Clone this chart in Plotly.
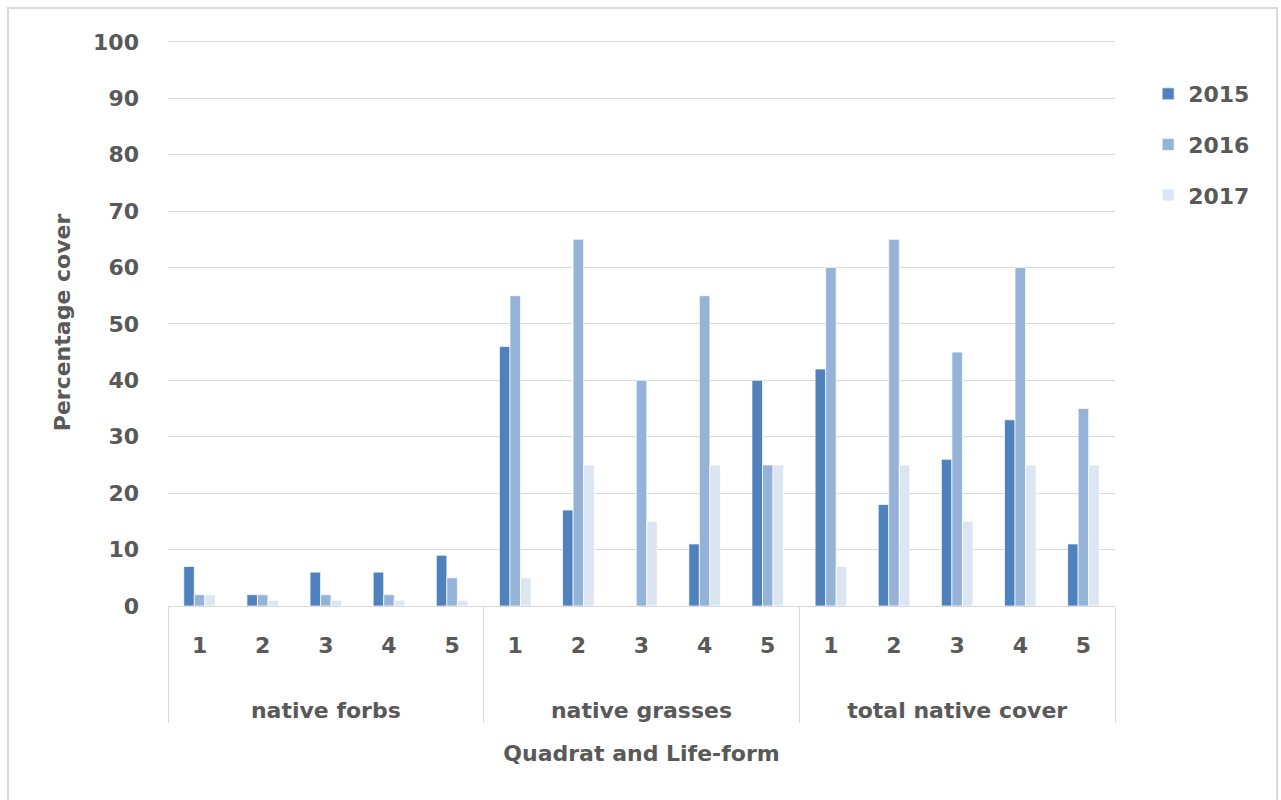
import plotly.graph_objects as go

life_forms = ["native forbs", "native grasses", "total native cover"]
quadrats = ["1", "2", "3", "4", "5"]
years = ["2015", "2016", "2017"]

cover_2015 = [7, 2, 6, 6, 9, 46, 17, 0, 11, 40, 42, 18, 26, 33, 11]
cover_2016 = [2, 2, 2, 2, 5, 55, 65, 40, 55, 25, 60, 65, 45, 60, 35]
cover_2017 = [2, 1, 1, 1, 1, 5, 25, 15, 25, 25, 7, 25, 15, 25, 25]

colors = ["#4F81BD", "#95B3D7", "#DCE6F2"]

outer = ["<br><br>" + lf for lf in life_forms for _ in quadrats]
inner = [q for _ in life_forms for q in quadrats]

FONT = "DejaVu Sans"
TXT = "#595959"
FS = 22

fig = go.Figure()
for yr, vals, col in zip(years, [cover_2015, cover_2016, cover_2017], colors):
    fig.add_trace(go.Bar(
        name=yr, x=[outer, inner], y=vals,
        marker=dict(color=col, line=dict(color="rgba(255,255,255,0.7)", width=1)),
        legendgroup=yr,
    ))

L, R, T, B = 168, 1281 - 1115, 39, 800 - 606
PW, PH = 1281 - L - R, 800 - T - B
fig.update_layout(
    width=1281, height=800,
    margin=dict(l=L, r=R, t=T, b=B, autoexpand=False),
    paper_bgcolor="white", plot_bgcolor="white",
    barmode="group", bargap=0.5, bargroupgap=0,
    font=dict(family=FONT, size=FS, color=TXT),
    showlegend=True,
    legend=dict(
        x=1.035, xanchor="left", y=0.94, yanchor="top",
        font=dict(family=FONT, size=FS, color=TXT, weight="bold"),
        tracegroupgap=19, itemwidth=30, bgcolor="rgba(0,0,0,0)",
    ),
    xaxis=dict(
        type="multicategory",
        showline=True, linecolor="#D9D9D9", linewidth=1,
        showgrid=False,
        ticks="", ticklabelstandoff=20,
        showdividers=True, dividercolor="#D9D9D9", dividerwidth=1,
        tickfont=dict(family=FONT, size=FS, color=TXT, weight="bold"),
        title=dict(text="Quadrat and Life-form", standoff=24,
                   font=dict(family=FONT, size=FS, color=TXT, weight="bold")),
    ),
    yaxis=dict(
        range=[0, 100.5], dtick=10, tick0=0,
        showgrid=True, gridcolor="#D9D9D9", gridwidth=1,
        zeroline=False, showline=False,
        ticks="", ticklabelstandoff=28,
        tickfont=dict(family=FONT, size=FS, color=TXT, weight="bold"),
        title=dict(text="Percentage cover", standoff=16,
                   font=dict(family=FONT, size=FS, color=TXT, weight="bold")),
    ),
    shapes=[dict(
        type="rect", xref="paper", yref="paper",
        x0=(8 - L) / PW, x1=(1277 - L) / PW,
        y0=(606 - 805) / PH, y1=(800 - B - 8) / PH,
        line=dict(color="#D9D9D9", width=2), fillcolor="rgba(0,0,0,0)",
        layer="below",
    )],
)

fig.write_html("out.html")
